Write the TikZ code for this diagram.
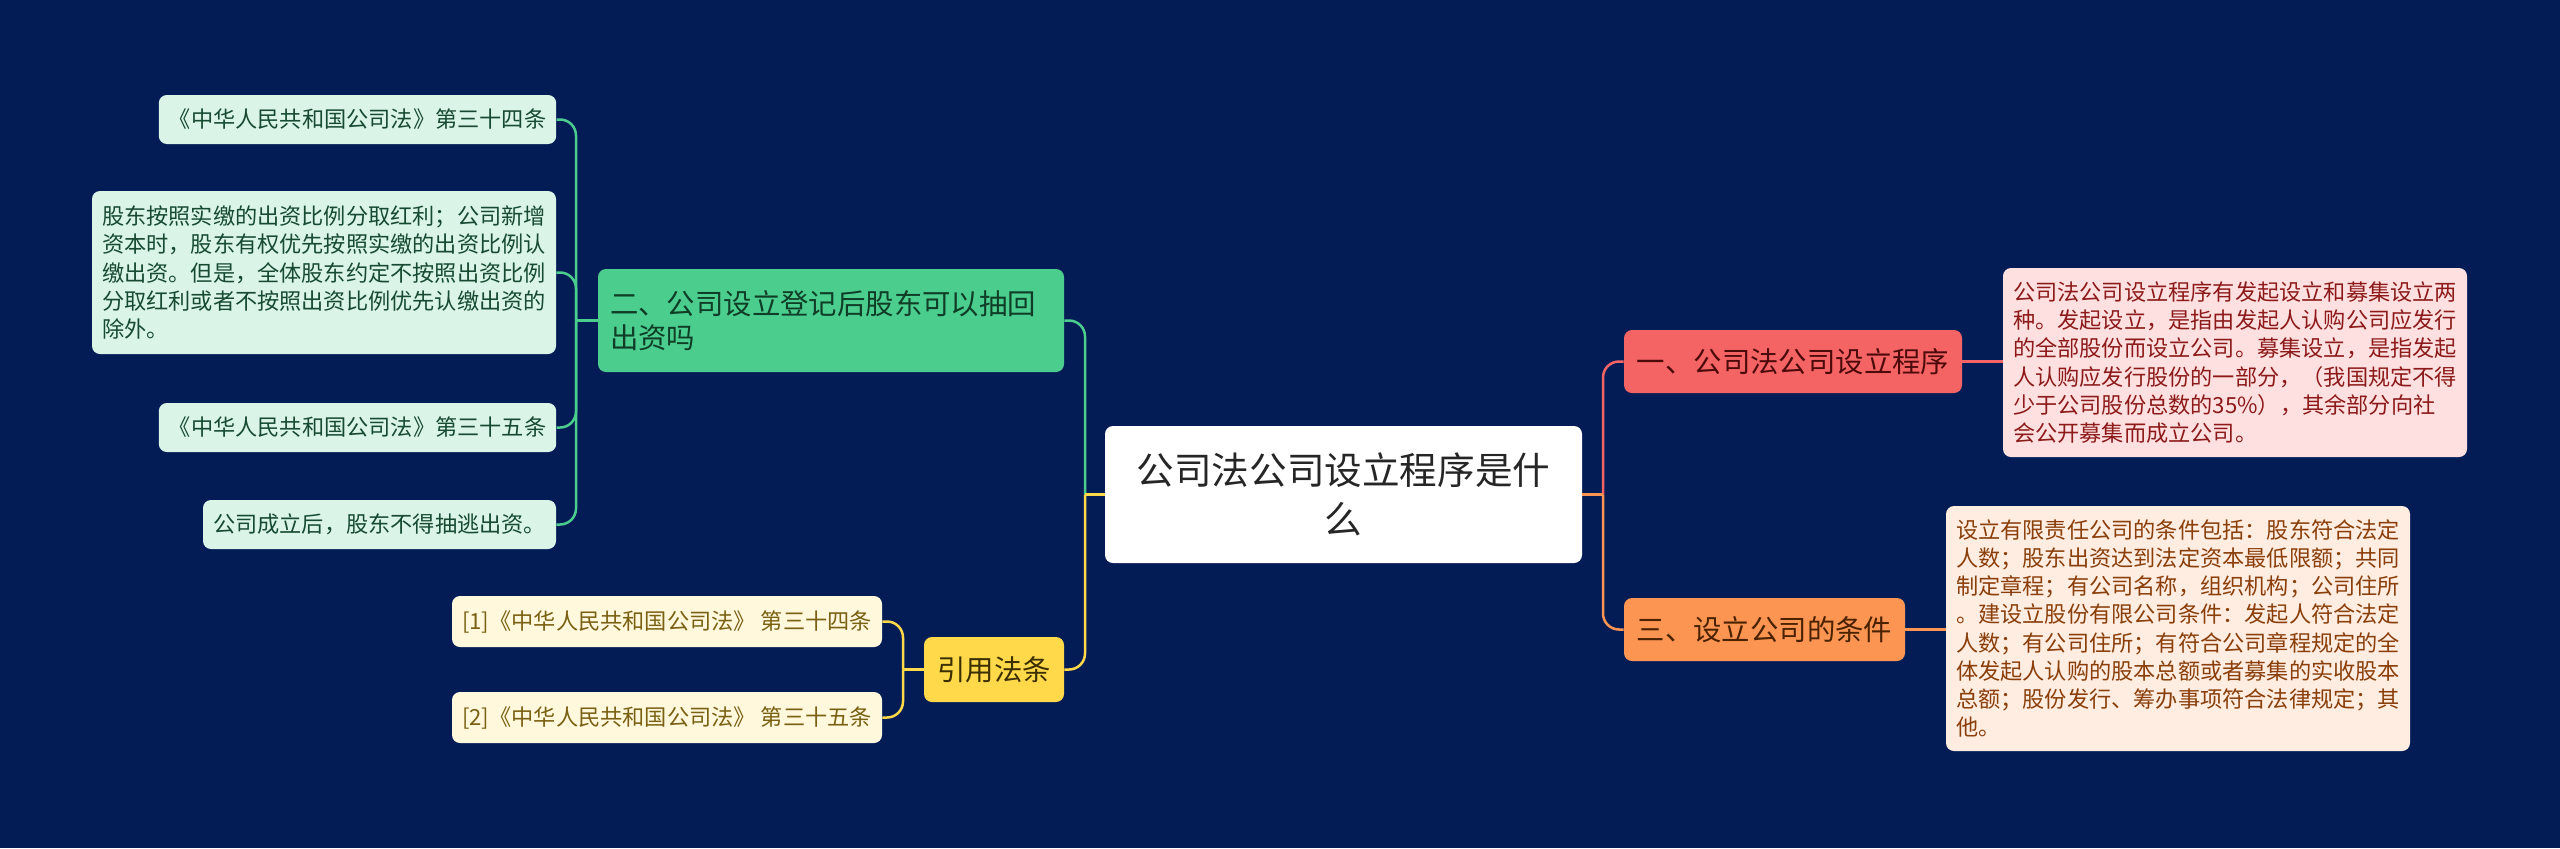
\documentclass[tikz,border=0pt]{standalone}
\usepackage{fontspec}
\setmainfont{Noto Sans CJK SC}
\definecolor{bg}{RGB}{3,28,86}
\definecolor{cWt}{HTML}{262626}
\definecolor{cR}{HTML}{F56464}
\definecolor{cRt}{HTML}{4D0A0A}
\definecolor{cRl}{HTML}{FFE0E1}
\definecolor{cRlt}{HTML}{8C1A1A}
\definecolor{cO}{HTML}{FD9552}
\definecolor{cOt}{HTML}{4A2200}
\definecolor{cOl}{HTML}{FFEDE1}
\definecolor{cOlt}{HTML}{8A3E0A}
\definecolor{cG}{HTML}{4BCD8E}
\definecolor{cGt}{HTML}{0F3D26}
\definecolor{cGl}{HTML}{DAF5E8}
\definecolor{cGlt}{HTML}{174A31}
\definecolor{cY}{HTML}{FFD94A}
\definecolor{cYt}{HTML}{3D3000}
\definecolor{cYl}{HTML}{FFF8DC}
\definecolor{cYlt}{HTML}{7A6012}
\begin{document}
\begin{tikzpicture}[x=0.5pt,y=-0.5pt,
  box/.style={rounded corners=4pt, inner xsep=5pt, inner ysep=0pt, anchor=center, align=left},
  leaftxt/.style={font=\fontsize{11.1pt}{14.1pt}\selectfont},
  brtxt/.style={font=\fontsize{14.2pt}{17pt}\selectfont},
  link/.style={line width=1.25pt},
  rlink/.style={line width=1.25pt, rounded corners=8pt}]
\fill[bg] (0,0) rectangle (2560,848);
\useasboundingbox (0,0) rectangle (2560,848);

% center
\node[box, fill=white, text=cWt, align=center, font=\fontsize{18.8pt}{24.5pt}\selectfont,
  minimum width=238.5pt, minimum height=68.5pt] (c) at (1343.5,494.5) {公司法公司设立程序是什\\么};

% right branches
\node[box, brtxt, fill=cR, text=cRt, minimum width=169pt, minimum height=31.5pt] (r1) at (1793,361.5) {一、公司法公司设立程序};
\node[box, leaftxt, fill=cRl, text=cRlt, minimum width=230pt, minimum height=94.5pt] (t1) at (2235,362.5)
 {公司法公司设立程序有发起设立和募集设立两\\种。发起设立，是指由发起人认购公司应发行\\的全部股份而设立公司。募集设立，是指发起\\人认购应发行股份的一部分，（我国规定不得\\少于公司股份总数的35\%），其余部分向社\\会公开募集而成立公司。};

\node[box, brtxt, fill=cO, text=cOt, minimum width=140.5pt, minimum height=31.5pt] (r3) at (1764.5,629.5) {三、设立公司的条件};
\node[box, leaftxt, fill=cOl, text=cOlt, minimum width=230pt, minimum height=122.5pt] (t3) at (2178,628.5)
 {设立有限责任公司的条件包括：股东符合法定\\人数；股东出资达到法定资本最低限额；共同\\制定章程；有公司名称，组织机构；公司住所\\。建设立股份有限公司条件：发起人符合法定\\人数；有公司住所；有符合公司章程规定的全\\体发起人认购的股本总额或者募集的实收股本\\总额；股份发行、筹办事项符合法律规定；其\\他。};

% left branches
\node[box, brtxt, fill=cG, text=cGt, inner xsep=6pt, text width=221pt, minimum height=51.5pt] (g) at (831,320.5) {二、公司设立登记后股东可以抽回\\出资吗};
\node[box, leaftxt, fill=cGl, text=cGlt, minimum width=197.5pt, minimum height=24.5pt] (g1) at (357.5,119.5) {《中华人民共和国公司法》第三十四条};
\node[box, leaftxt, fill=cGl, text=cGlt, minimum width=231pt, minimum height=81.5pt] (g2) at (324,272.5)
 {股东按照实缴的出资比例分取红利；公司新增\\资本时，股东有权优先按照实缴的出资比例认\\缴出资。但是，全体股东约定不按照出资比例\\分取红利或者不按照出资比例优先认缴出资的\\除外。};
\node[box, leaftxt, fill=cGl, text=cGlt, minimum width=197.5pt, minimum height=24.5pt] (g3) at (357.5,427.5) {《中华人民共和国公司法》第三十五条};
\node[box, leaftxt, fill=cGl, text=cGlt, minimum width=175.5pt, minimum height=24.5pt] (g4) at (379.5,524.5) {公司成立后，股东不得抽逃出资。};

\node[box, brtxt, fill=cY, text=cYt, align=center, minimum width=70pt, minimum height=32.5pt] (y) at (994,669.5) {引用法条};
\node[box, leaftxt, fill=cYl, text=cYlt, minimum width=215pt, minimum height=25.5pt] (y1) at (667,621.5) {[1]《中华人民共和国公司法》 第三十四条};
\node[box, leaftxt, fill=cYl, text=cYlt, minimum width=215pt, minimum height=25.5pt] (y2) at (667,717.5) {[2]《中华人民共和国公司法》 第三十五条};

% junctions
\coordinate (jL) at (1085,494.5);
\coordinate (jR) at (1603,494.5);
\coordinate (jG) at (576,320.5);
\coordinate (jY) at (903,669.5);

% center links
\draw[rlink, cG] (g.east) -| (jL);
\draw[rlink, cY] (y.east) -| (jL);
\draw[link, cY] (jL) -- (c.west);
\draw[rlink, cR] (r1.west) -| (jR);
\draw[rlink, cO] (r3.west) -| (jR);
\draw[link, cO] (jR) -- (c.east);

% leaf links
\draw[link, cR] (r1.east) -- (r1.east -| t1.west);
\draw[link, cO] (r3.east) -- (r3.east -| t3.west);
\draw[rlink, cG] (g1.east) -| (jG);
\draw[rlink, cG] (g2.east) -| (jG);
\draw[rlink, cG] (g3.east) -| (jG);
\draw[rlink, cG] (g4.east) -| (jG);
\draw[link, cG] (jG) -- (g.west);
\draw[rlink, cY] (y1.east) -| (jY);
\draw[rlink, cY] (y2.east) -| (jY);
\draw[link, cY] (jY) -- (y.west);
\end{tikzpicture}
\end{document}
